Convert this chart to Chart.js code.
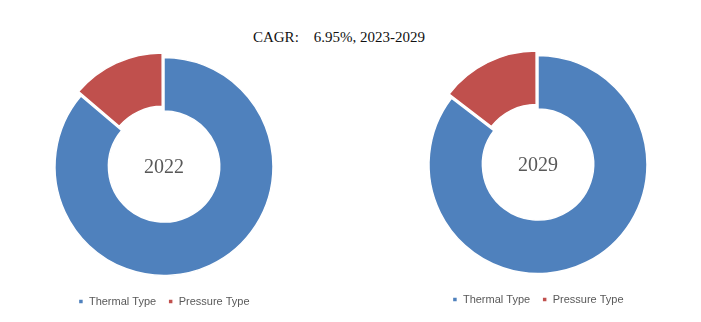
<!DOCTYPE html>
<html>
<head>
<meta charset="utf-8">
<script src="https://cdn.jsdelivr.net/npm/chart.js@4.4.0/dist/chart.umd.min.js"></script>
<style>
  html, body { margin: 0; padding: 0; background: #fff; }
  #wrap { position: relative; width: 701px; height: 322px; overflow: hidden; }
  #title {
    position: absolute; left: 0; top: 29px; width: 678px; text-align: center;
    font-family: "Liberation Serif", "DejaVu Serif", serif; font-size: 15px;
    color: #111; white-space: pre;
  }
  .box { position: absolute; width: 330px; height: 268px; }
  #left { left: -1px; top: 49px; }
  #right { left: 373px; top: 47px; }
</style>
</head>
<body>
<div id="wrap">
  <div id="title">CAGR:    6.95%, 2023-2029</div>
  <div class="box" id="left"><canvas id="chart2022"></canvas></div>
  <div class="box" id="right"><canvas id="chart2029"></canvas></div>
</div>
<script>
// Market share by type
const types = ['Thermal Type', 'Pressure Type'];
const share2022 = [86.2, 13.8];
const share2029 = [85.4, 14.6];
const colors = ['#4F81BD', '#C0504D'];

// writes the year in the hole of the doughnut
const centerText = {
  id: 'centerText',
  afterDatasetsDraw(chart, args, opts) {
    const arc = chart.getDatasetMeta(0).data[0];
    if (!arc) return;
    const ctx = chart.ctx;
    ctx.save();
    ctx.font = '20px "Liberation Serif", "DejaVu Serif", serif';
    ctx.fillStyle = '#595959';
    ctx.textAlign = 'center';
    ctx.textBaseline = 'middle';
    ctx.fillText(opts.text, arc.x, arc.y + 1);
    ctx.restore();
  }
};

function makeDoughnut(id, year, values) {
  return new Chart(document.getElementById(id), {
    type: 'doughnut',
    data: {
      labels: types,
      datasets: [{
        data: values,
        backgroundColor: colors,
        borderColor: '#fff',
        borderWidth: 1.5,
        offset: [0, 16] // pulls the small slice out a little
      }]
    },
    options: {
      responsive: true,
      maintainAspectRatio: false,
      animation: false,
      radius: 109,
      cutout: '51%',
      layout: { padding: 0 },
      plugins: {
        centerText: { text: year },
        tooltip: { enabled: false },
        legend: {
          position: 'bottom',
          labels: {
            usePointStyle: true,
            pointStyle: 'rect',
            boxWidth: 5,
            boxHeight: 5,
            padding: 12,
            color: '#595959',
            font: { family: '"Liberation Sans", Arial, sans-serif', size: 11 }
          }
        }
      }
    },
    plugins: [centerText]
  });
}

makeDoughnut('chart2022', '2022', share2022);
makeDoughnut('chart2029', '2029', share2029);
</script>
</body>
</html>
